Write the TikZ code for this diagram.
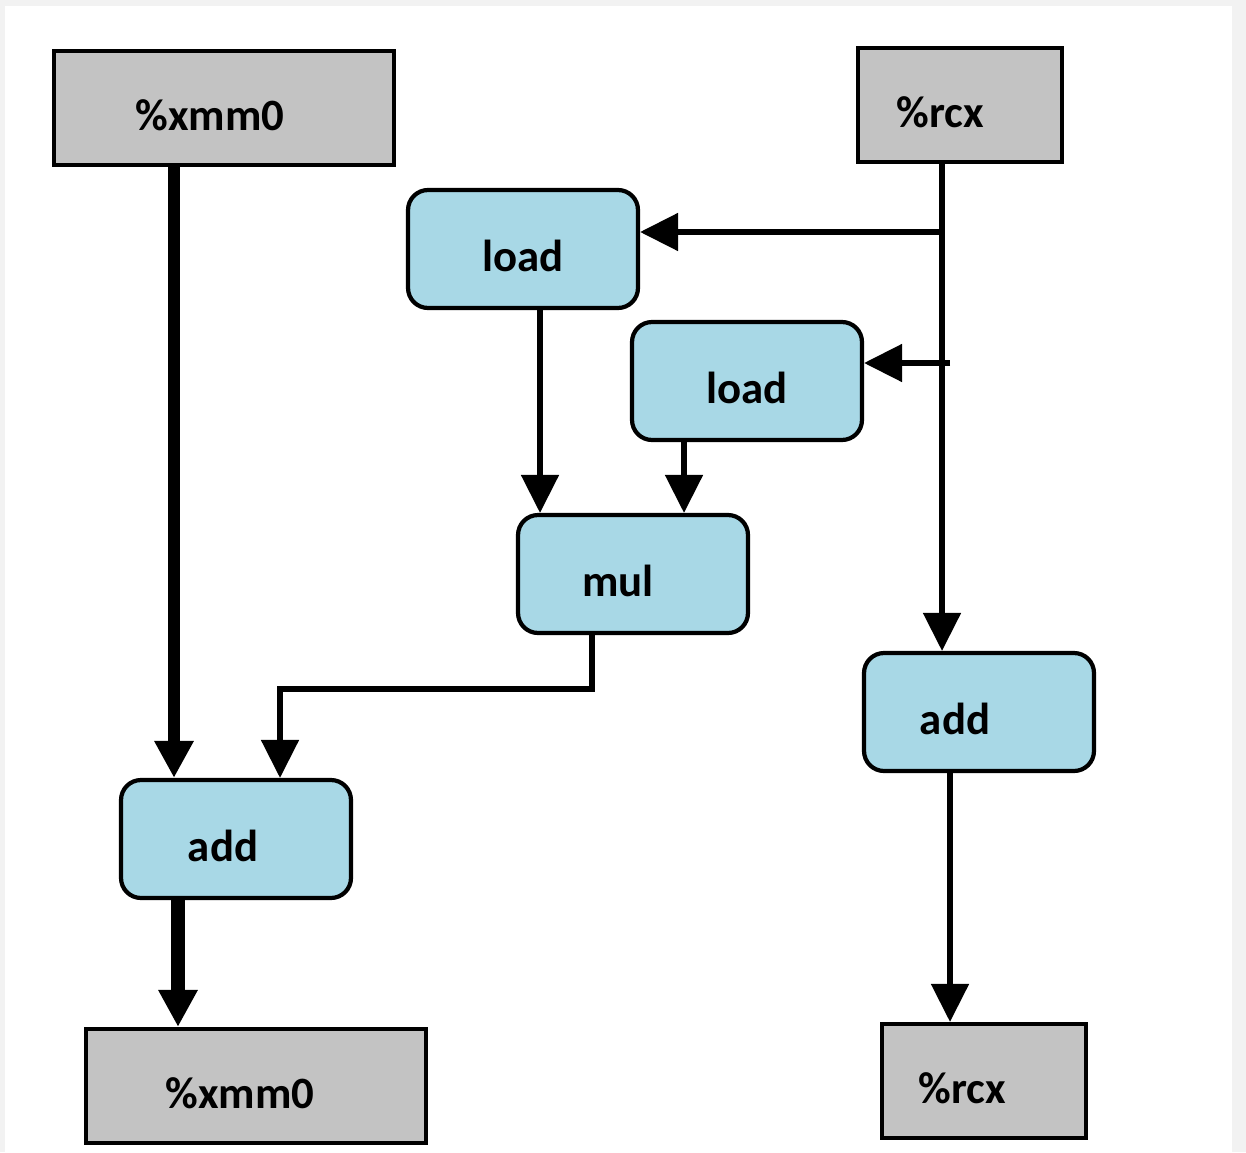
\documentclass[tikz,border=0pt]{standalone}
\usepackage{fontspec}
\setmainfont{Carlito}
\usetikzlibrary{arrows.meta}

\definecolor{regfill}{HTML}{C3C3C3}
\definecolor{opfill}{HTML}{A8D8E6}
\definecolor{pagegray}{HTML}{F2F2F2}

\tikzset{
    box/.style={draw=black, line width=2.4pt, text height=1cm, text depth=0.1cm,
        font=\fontsize{25.5}{30}\selectfont\bfseries},
    reg/.style={box, fill=regfill, minimum height=2.28cm},
    op/.style={box, fill=opfill, rounded corners=0.4cm,
        minimum width=4.6cm, minimum height=2.36cm},
    nudge/.style={execute at begin node={\hspace*{#1}}},
    flow/.style={line width=2.9pt, -{Triangle[length=0.76cm, width=0.74cm]}},
    bigflow/.style={line width=7pt, -{Triangle[length=0.74cm, width=0.74cm]}}
}

\begin{document}
\begin{tikzpicture}[x=0.02cm, y=-0.02cm]

% Fondo
\useasboundingbox (0,0) rectangle (1246,1152);
\fill[pagegray] (0,0) rectangle (1246,1152);
\fill[white] (5,6) rectangle (1232,1152);

% =============================================
% Registros (arriba y abajo)
% =============================================
\node[reg, minimum width=6.8cm, nudge=-0.56cm] (xmmA) at (224,108) {\%xmm0};
\node[reg, minimum width=4.08cm, nudge=-0.8cm] (rcxA) at (960,105) {\%rcx};
\node[reg, minimum width=6.8cm, nudge=-0.64cm] (xmmB) at (256,1086) {\%xmm0};
\node[reg, minimum width=4.08cm, nudge=-0.88cm] (rcxB) at (984,1081) {\%rcx};

% =============================================
% Operaciones
% =============================================
\node[op] (loadA) at (523,249) {load};
\node[op] (loadB) at (747,381) {load};
\node[op, nudge=-0.6cm] (mul) at (633,574) {mul};
\node[op, nudge=-0.96cm] (addR) at (979,712) {add};
\node[op, nudge=-0.52cm] (addL) at (236,839) {add};

% Columnas de las flechas
\coordinate (cx) at (174,0);
\coordinate (cxb) at (178,0);
\coordinate (cm) at (592,0);
\coordinate (ca) at (280,0);
\coordinate (cl1) at (540,0);
\coordinate (cl2) at (684,0);
\coordinate (cr) at (942,0);
\coordinate (cr2) at (950,0);
\coordinate (y1) at (0,232);
\coordinate (y2) at (0,363);
\coordinate (ym) at (0,689);

% =============================================
% Flujo de %xmm0
% =============================================
\draw[bigflow] (cx |- xmmA.south) -- (cx |- addL.north);
\draw[flow] (cm |- mul.south) -- (cm |- ym) -- (ca |- ym) -- (ca |- addL.north);
\draw[bigflow, line width=8pt] (cxb |- addL.south) -- (cxb |- xmmB.north);

% Cargas hacia mul
\draw[flow] (cl1 |- loadA.south) -- (cl1 |- mul.north);
\draw[flow] (cl2 |- loadB.south) -- (cl2 |- mul.north);

% =============================================
% Flujo de %rcx
% =============================================
\draw[flow] (cr |- rcxA.south) -- (cr |- addR.north);
\draw[flow] (cr |- y1) -- (loadA.east |- y1);
\draw[flow] (cr2 |- y2) -- (loadB.east |- y2);
\draw[flow] (cr2 |- addR.south) -- (cr2 |- rcxB.north);

\end{tikzpicture}
\end{document}
